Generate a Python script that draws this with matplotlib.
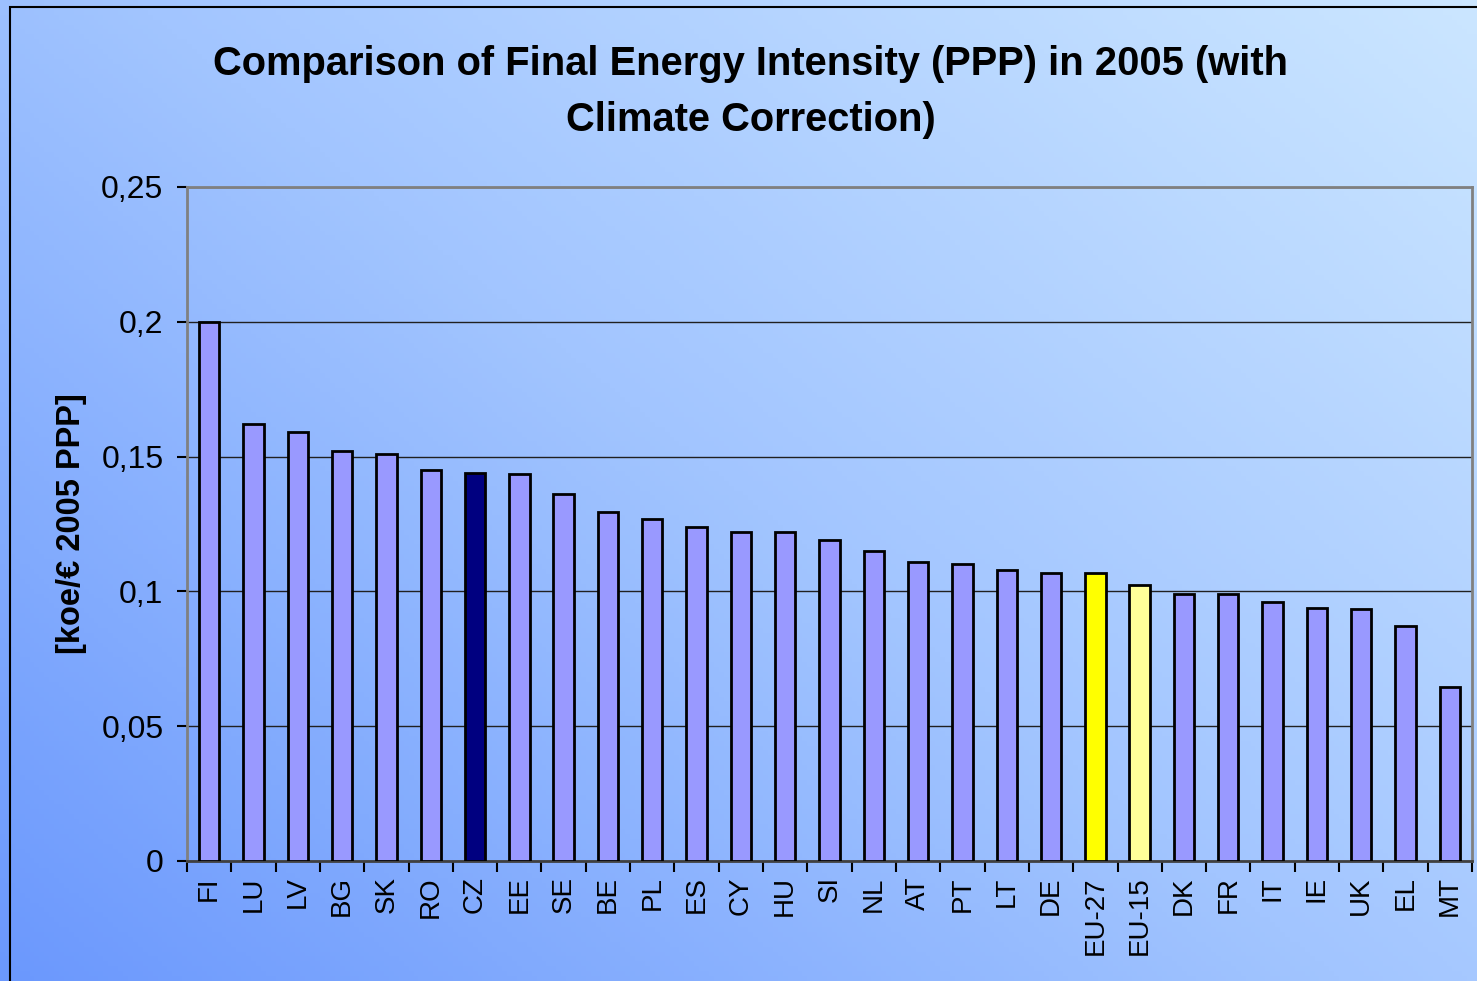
#!/usr/bin/env python3
import numpy as np
import matplotlib
matplotlib.use('Agg')
import matplotlib.pyplot as plt
from matplotlib.colors import LinearSegmentedColormap
from matplotlib.patches import Rectangle

plt.rcParams['font.family'] = ['Liberation Sans', 'DejaVu Sans']

# data
countries = ['FI', 'LU', 'LV', 'BG', 'SK', 'RO', 'CZ', 'EE', 'SE', 'BE',
             'PL', 'ES', 'CY', 'HU', 'SI', 'NL', 'AT', 'PT', 'LT', 'DE',
             'EU-27', 'EU-15', 'DK', 'FR', 'IT', 'IE', 'UK', 'EL', 'MT']
intensity = [0.200, 0.162, 0.159, 0.152, 0.151, 0.145, 0.144, 0.1435, 0.136,
             0.1295, 0.127, 0.124, 0.122, 0.122, 0.119, 0.1148, 0.111, 0.110,
             0.108, 0.107, 0.107, 0.1025, 0.099, 0.099, 0.096, 0.094, 0.0935,
             0.087, 0.0645]
yticks = [0, 0.05, 0.1, 0.15, 0.2, 0.25]
ytick_labels = ['0', '0,05', '0,1', '0,15', '0,2', '0,25']

# special colours
highlight = {'CZ': '#000080', 'EU-27': '#FFFF00', 'EU-15': '#FFFF99'}
colors = [highlight.get(c, '#9999FF') for c in countries]

fig = plt.figure(figsize=(14.77, 9.81), dpi=100)

# diagonal gradient background
bg = fig.add_axes([0, 0, 1, 1], zorder=-10)
gx, gy = np.meshgrid(np.linspace(0, 1, 300), np.linspace(0, 1, 200))
t = (gx * 0.55 + gy * 0.45)
cmap = LinearSegmentedColormap.from_list('bg', ['#6b98fd', '#a2c5ff', '#cbe6ff'])
bg.imshow(t, cmap=cmap, origin='lower', extent=[0, 1, 0, 1], aspect='auto')
bg.set_axis_off()

# outer frame
fig.patches.append(Rectangle((10 / 1477, -0.05), 1.1, 1 - 7 / 981 + 0.05,
                             transform=fig.transFigure, fill=False,
                             edgecolor='black', linewidth=1.5))

ax = fig.add_axes([187 / 1477, 1 - 861 / 981, (1472 - 187) / 1477, (861 - 187) / 981])
ax.patch.set_alpha(0)

x = np.arange(len(countries))
ax.bar(x, intensity, width=0.46, color=colors, edgecolor='black',
       linewidth=2, zorder=3)

# axes
ax.set_xlim(-0.5, len(countries) - 0.5)
ax.set_ylim(0, 0.25)
ax.set_yticks(yticks)
ax.set_yticklabels(ytick_labels, fontsize=23)
ax.set_xticks(x)
ax.set_xticklabels(countries, rotation=90, fontsize=20)
ax.set_xticks(np.arange(-0.5, len(countries), 1), minor=True)
ax.tick_params(axis='x', which='major', length=0, pad=11)
ax.tick_params(axis='x', which='minor', length=8, width=1.5, direction='out')
ax.tick_params(axis='y', length=7, width=1.5, direction='out', pad=10)

ax.grid(axis='y', color='#202020', linewidth=1, zorder=0)
for side in ['left', 'top', 'right']:
    ax.spines[side].set_color('#808080')
    ax.spines[side].set_linewidth(2)
ax.spines['bottom'].set_color('#404040')
ax.spines['bottom'].set_linewidth(2)

# labels and title
ax.set_ylabel('[koe/\u20ac 2005 PPP]', fontsize=23.5, fontweight='bold', labelpad=10)
fig.text(751 / 1477, 1 - 92 / 981,
         'Comparison of Final Energy Intensity (PPP) in 2005 (with\nClimate Correction)',
         ha='center', va='center', fontsize=28.7, fontweight='bold', linespacing=1.6)

plt.savefig('out.png', dpi=100)
